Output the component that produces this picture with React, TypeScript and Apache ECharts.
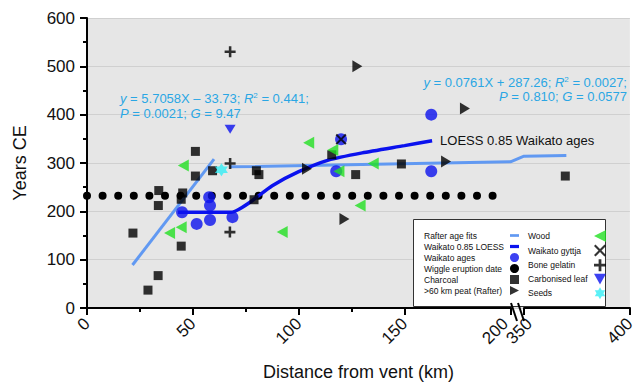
import React, { useEffect, useRef } from 'react';
import * as echarts from 'echarts';

const FONT = 'Liberation Sans, Arial, Helvetica, sans-serif';

// ---- data: [distance from vent (km), age (years CE)] ----
const charcoal: number[][] = [
  [21.7, 155], [28.8, 37], [33.6, 67], [33.9, 243], [33.7, 212], [44.5, 128],
  [45.2, 238], [44.5, 225], [51.2, 324], [51.2, 273], [59.3, 284], [80, 284],
  [81.2, 276], [78.9, 224], [115.6, 317], [126.9, 276], [148.5, 298], [369.5, 273],
];
const peat: number[][] = [
  [127.7, 500], [178.5, 413], [103.9, 288], [169.6, 303], [121.6, 184],
];
const waikatoAges: number[][] = [
  [44.9, 198], [51.8, 174], [58.1, 182], [57.7, 229], [58.1, 212], [68.7, 188],
  [120, 349], [117.7, 283], [162.6, 283], [162.6, 400],
];
const wood: number[][] = [
  [45.5, 295], [39, 155], [44.5, 167], [104.7, 342], [116.1, 327], [119, 283],
  [135.2, 299], [129, 212], [92.2, 157],
];
const gyttja: number[][] = [[120, 349]];
const boneGelatin: number[][] = [[67.6, 530], [67.6, 299], [67.5, 157]];
const carbonisedLeaf: number[][] = [[67.6, 370]];
const seeds: number[][] = [[63.5, 286]];

const rafterFitNear: number[][] = [[21.5, 89], [60, 308]];
const rafterFitFar: number[][] = [[67.5, 292], [200, 302.5], [350, 314], [370, 315.5]];
const loess: number[][] = [
  [43, 198], [55, 198], [68, 198], [72, 205], [78, 222], [87.5, 253],
  [100, 282], [114, 306], [130, 321], [150, 336], [163, 346],
];
const wiggleDate = 232;
const wiggleSpan = [0, 194];

const xTicks = [0, 50, 100, 150, 200, 350, 400];

const BLUE = '#0b12ee';
const LIGHT = '#6199f2';
const GREEN = '#22e022';
const CYAN = '#33eef5';
const EQ = '#2aa6e4';

const SYM_LEFT = 'path://M0,5L10,0L10,10Z';
const SYM_RIGHT = 'path://M0,0L10,5L0,10Z';
const SYM_DOWN = 'path://M0,0L10,0L5,9Z';
const SYM_PLUS = 'path://M5,0H8V5H13V8H8V13H5V8H0V5H5Z';
const SYM_X = 'path://M0,1.5L1.5,0L6,4.5L10.5,0L12,1.5L7.5,6L12,10.5L10.5,12L6,7.5L1.5,12L0,10.5L4.5,6Z';
const SYM_STAR = 'path://M10,0L12.89,5L18.66,5L15.77,10L18.66,15L12.89,15L10,20L7.11,15L1.34,15L4.23,10L1.34,5L7.11,5Z';

export default function App() {
  const ref = useRef<HTMLDivElement>(null);
  useEffect(() => {
    if (!ref.current) return;
    const chart = echarts.init(ref.current, null, { renderer: 'svg' });
    const scatterBase = { type: 'scatter', z: 3 };
    const option: any = {
      animation: false,
      textStyle: { fontFamily: FONT },
      grid: {
        left: 87, right: 5, top: 18, bottom: 74,
        show: true, backgroundColor: '#e6e6e6', borderWidth: 0,
      },
      xAxis: {
        type: 'value', min: 0, max: 400, interval: 50,
        breaks: [{ start: 200, end: 350, gap: '2.5%' }],
        breakArea: { show: false },
        name: 'Distance from vent (km)', nameLocation: 'middle', nameGap: 55,
        nameTextStyle: { fontSize: 18, color: '#111', fontFamily: FONT },
        axisLine: { lineStyle: { color: '#000', width: 2 } },
        axisTick: { length: 7, lineStyle: { width: 2, color: '#000' } },
        minorTick: { show: true, splitNumber: 2, length: 4, lineStyle: { width: 2, color: '#000' } },
        splitLine: { show: false },
        axisLabel: {
          rotate: 45, fontSize: 17, color: '#111', margin: 13, fontFamily: FONT,
          formatter: (v: number) => (xTicks.indexOf(v) >= 0 ? String(v) : ''),
        },
      },
      yAxis: {
        type: 'value', min: 0, max: 600, interval: 100,
        name: 'Years CE', nameLocation: 'middle', nameGap: 58,
        nameTextStyle: { fontSize: 18, color: '#111', fontFamily: FONT },
        axisLine: { show: true, lineStyle: { color: '#000', width: 2 } },
        axisTick: { show: true, length: 7, lineStyle: { width: 2, color: '#000' } },
        minorTick: { show: true, splitNumber: 2, length: 4, lineStyle: { width: 2, color: '#000' } },
        splitLine: { show: true, lineStyle: { color: '#d0d0d0', width: 1 } },
        axisLabel: { fontSize: 17, color: '#111', margin: 12, fontFamily: FONT },
      },
      legend: [
        {
          orient: 'vertical', left: 419, top: 226, align: 'right',
          itemWidth: 9, itemHeight: 9, itemGap: 2, selectedMode: false,
          formatter: '{t|{name}}',
          textStyle: {
            fontSize: 8.5, color: '#111', fontFamily: FONT,
            rich: { t: { width: 81, align: 'left', fontSize: 8.5, fontFamily: FONT, color: '#111' } },
          },
          data: [
            { name: 'Rafter age fits', icon: 'path://M0,0H10V3H0Z' },
            { name: 'Waikato 0.85 LOESS', icon: 'path://M0,0H10V3.6H0Z' },
            { name: 'Waikato ages' },
            { name: 'Wiggle eruption date', icon: 'circle' },
            { name: 'Charcoal' },
            { name: '>60 km peat (Rafter)' },
          ],
        },
        {
          orient: 'vertical', left: 523, top: 225, align: 'right',
          itemWidth: 12, itemHeight: 12, itemGap: 2.6, selectedMode: false,
          formatter: '{t|{name}}',
          textStyle: {
            fontSize: 8.5, color: '#111', fontFamily: FONT,
            rich: { t: { width: 61, align: 'left', fontSize: 8.5, fontFamily: FONT, color: '#111' } },
          },
          data: ['Wood', 'Waikato gyttja', 'Bone gelatin', 'Carbonised leaf', 'Seeds'],
        },
      ],
      graphic: [
        {
          type: 'rect', x: 413.5, y: 219.5, z: 3,
          shape: { x: 0, y: 0, width: 192, height: 87 },
          style: { fill: '#fff', stroke: '#333', lineWidth: 1 },
        },
        // axis break marks
        {
          type: 'line', z: 10,
          shape: { x1: 511, y1: 303, x2: 517, y2: 321 },
          style: { stroke: '#000', lineWidth: 2 },
        },
        {
          type: 'line', z: 10,
          shape: { x1: 518, y1: 303, x2: 524, y2: 321 },
          style: { stroke: '#000', lineWidth: 2 },
        },
        {
          type: 'text', x: 120, y: 91, z: 5,
          style: {
            text: '{i|y} = 5.7058X \u2013 33.73; {i|R}{s|2} = 0.441;\n{i|P} = 0.0021; {i|G} = 9.47',
            fill: EQ, fontSize: 13, fontFamily: FONT, lineHeight: 15,
            rich: {
              i: { fontStyle: 'italic', fontSize: 13, fontFamily: FONT, fill: EQ, lineHeight: 15 },
              s: { fontSize: 8, fontFamily: FONT, fill: EQ, verticalAlign: 'top', lineHeight: 15 },
            },
          },
        },
        {
          type: 'text', x: 627, y: 75, z: 5,
          style: {
            text: '{i|y} = 0.0761X + 287.26; {i|R}{s|2} = 0.0027;\n{i|P} = 0.810; {i|G} = 0.0577',
            fill: EQ, fontSize: 13, fontFamily: FONT, lineHeight: 14.5, align: 'right',
            rich: {
              i: { fontStyle: 'italic', fontSize: 13, fontFamily: FONT, fill: EQ, lineHeight: 14.5 },
              s: { fontSize: 8, fontFamily: FONT, fill: EQ, verticalAlign: 'top', lineHeight: 14.5 },
            },
          },
        },
      ],
      series: [
        {
          name: 'Wiggle eruption date', type: 'line', z: 2,
          data: [[wiggleSpan[0], wiggleDate], [wiggleSpan[1], wiggleDate]],
          symbol: 'none', color: '#000',
          lineStyle: { color: '#000', width: 8, type: [0, 15.6], cap: 'round' },
        },
        {
          name: 'Rafter age fits', type: 'line', data: rafterFitNear, symbol: 'none', color: LIGHT,
          lineStyle: { color: LIGHT, width: 3 }, z: 2,
        },
        {
          name: 'Rafter age fits', type: 'line', data: rafterFitFar, symbol: 'none', color: LIGHT,
          lineStyle: { color: LIGHT, width: 3 }, z: 2,
        },
        {
          name: 'Waikato 0.85 LOESS', type: 'line', data: loess, symbol: 'none', color: BLUE, smooth: 0.2,
          lineStyle: { color: BLUE, width: 3.5 }, z: 2,
          endLabel: { show: true, formatter: 'LOESS 0.85 Waikato ages', color: '#111', fontSize: 13, fontFamily: FONT, distance: 8 },
        },
        { ...scatterBase, name: 'Charcoal', data: charcoal, symbol: 'rect', symbolSize: 9, itemStyle: { color: '#000' } },
        { ...scatterBase, name: '>60 km peat (Rafter)', data: peat, symbol: SYM_RIGHT, symbolSize: [10, 12], itemStyle: { color: '#000' } },
        { ...scatterBase, name: 'Waikato ages', data: waikatoAges, symbol: 'circle', symbolSize: 12, itemStyle: { color: BLUE } },
        { ...scatterBase, name: 'Wood', data: wood, symbol: SYM_LEFT, symbolSize: [11, 12], itemStyle: { color: GREEN } },
        { ...scatterBase, name: 'Waikato gyttja', data: gyttja, symbol: SYM_X, symbolSize: 11, itemStyle: { color: '#000' } },
        { ...scatterBase, name: 'Bone gelatin', data: boneGelatin, symbol: SYM_PLUS, symbolSize: 11, itemStyle: { color: '#000' } },
        { ...scatterBase, name: 'Carbonised leaf', data: carbonisedLeaf, symbol: SYM_DOWN, symbolSize: [11, 9], itemStyle: { color: BLUE } },
        { ...scatterBase, name: 'Seeds', data: seeds, symbol: SYM_STAR, symbolSize: 13, itemStyle: { color: CYAN } },
      ],
    };
    chart.setOption(option);
    return () => chart.dispose();
  }, []);
  return (
    <div
      ref={ref}
      style={{ position: 'fixed', left: 0, top: 0, width: 638, height: 386, background: '#fff' }}
    />
  );
}
